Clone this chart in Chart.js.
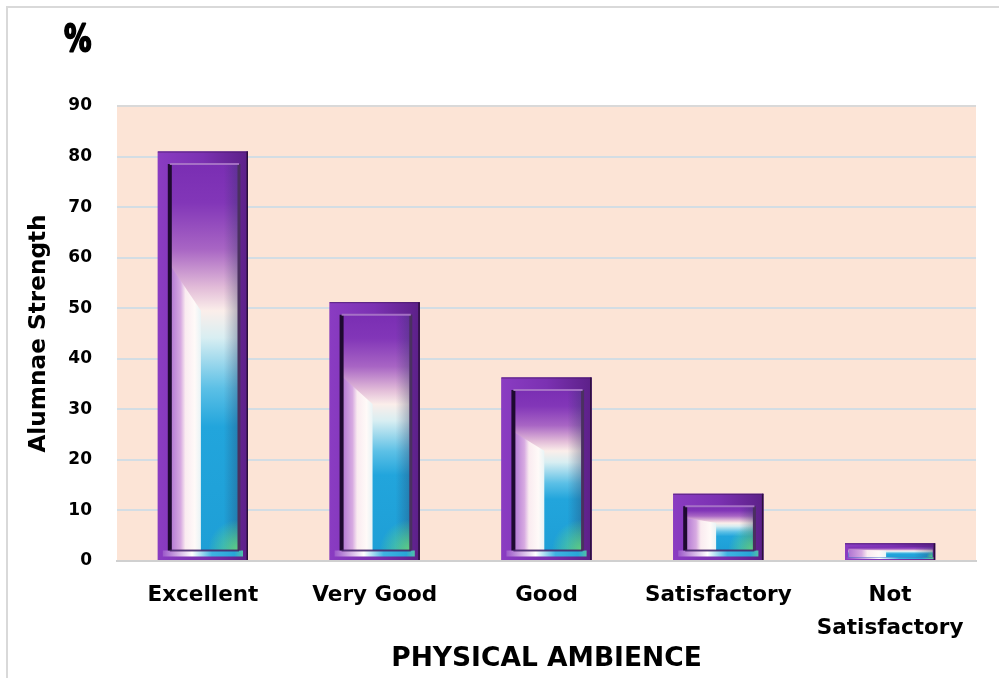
<!DOCTYPE html>
<html>
<head>
<meta charset="utf-8">
<script src="https://cdn.jsdelivr.net/npm/chart.js@4"></script>
<style>
html,body{margin:0;padding:0;background:#fff;}
#wrap{width:999px;height:678px;position:relative;}
</style>
</head>
<body>
<div id="wrap"><canvas id="c" width="999" height="678"></canvas></div>
<script>
const categories = ['Excellent', 'Very Good', 'Good', 'Satisfactory', ['Not', 'Satisfactory']];
const values = [81, 51.2, 36.3, 13.3, 3.5];
const yTicks = [0, 10, 20, 30, 40, 50, 60, 70, 80, 90];
const yTitle = 'Alumnae Strength';
const xTitle = 'PHYSICAL AMBIENCE';
const unitLabel = '%';

const FONT = "'DejaVu Sans', sans-serif";

const framePlugin = {
  id: 'frame',
  beforeDraw(chart) {
    const ctx = chart.ctx;
    ctx.save();
    ctx.fillStyle = '#ffffff';
    ctx.fillRect(0, 0, chart.width, chart.height);
    ctx.strokeStyle = '#d9d9d9';
    ctx.lineWidth = 2;
    ctx.beginPath();
    ctx.moveTo(7, chart.height);
    ctx.lineTo(7, 7);
    ctx.lineTo(chart.width, 7);
    ctx.stroke();
    const a = chart.chartArea;
    ctx.fillStyle = '#fce4d6';
    ctx.fillRect(a.left, a.top, a.right - a.left, a.bottom - a.top);
    ctx.restore();
  },
  afterDraw(chart) {
    const ctx = chart.ctx;
    ctx.save();
    ctx.fillStyle = '#000';
    ctx.strokeStyle = '#000';
    ctx.lineWidth = 2.2;
    ctx.lineJoin = 'round';
    ctx.font = "bold 38px " + FONT;
    ctx.textAlign = 'left';
    ctx.textBaseline = 'alphabetic';
    ctx.translate(64, 51);
    ctx.scale(0.72, 1);
    ctx.fillText(unitLabel, 0, 0);
    ctx.strokeText(unitLabel, 0, 0);
    ctx.restore();
  }
};

const barStylePlugin = {
  id: 'barStyle',
  afterDatasetsDraw(chart) {
    const ctx = chart.ctx;
    const meta = chart.getDatasetMeta(0);
    meta.data.forEach((el) => {
      const w = el.width;
      const L = el.x - w / 2, R = el.x + w / 2, T = el.y, B = el.base;
      const h = B - T;
      if (h <= 0) return;
      ctx.save();
      // outer frame
      let g = ctx.createLinearGradient(L, 0, R, 0);
      g.addColorStop(0, '#8a3cc2');
      g.addColorStop(0.5, '#7b31b2');
      g.addColorStop(1, '#5c2088');
      ctx.fillStyle = g;
      ctx.fillRect(L, T, w, h);
      const f = Math.min(10, h * 0.17);
      const ix = L + f * 1.2, iy = T + f * 1.25, iw = w - f * 2.1, ih = h - f * 2.2;
      const ib = iy + ih;
      // bottom frame strip bright gradient
      g = ctx.createLinearGradient(L, 0, R, 0);
      g.addColorStop(0, '#8a3cc2');
      g.addColorStop(0.2, '#c9a2df');
      g.addColorStop(0.38, '#ffffff');
      g.addColorStop(0.6, '#3fb4e2');
      g.addColorStop(0.85, '#28a6d8');
      g.addColorStop(1, '#6ad08a');
      ctx.fillStyle = g;
      ctx.fillRect(L + f * 0.5, ib, w - f, B - ib - f * 0.35);
      // inner vertical gradient
      g = ctx.createLinearGradient(0, iy, 0, ib);
      g.addColorStop(0, '#7a2eb3');
      g.addColorStop(0.1, '#8236b8');
      g.addColorStop(0.22, '#a865c4');
      g.addColorStop(0.32, '#e2bcd8');
      g.addColorStop(0.38, '#fbeeea');
      g.addColorStop(0.45, '#d8eef2');
      g.addColorStop(0.58, '#5cc0e6');
      g.addColorStop(0.68, '#22a5dc');
      g.addColorStop(1, '#1e9fd6');
      ctx.fillStyle = g;
      ctx.fillRect(ix, iy, iw, ih);
      // left lighter wedge
      ctx.save();
      ctx.beginPath();
      ctx.moveTo(ix, iy + ih * 0.26);
      ctx.lineTo(ix + iw * 0.45, iy + ih * 0.38);
      ctx.lineTo(ix + iw * 0.45, ib);
      ctx.lineTo(ix, ib);
      ctx.closePath();
      ctx.clip();
      g = ctx.createLinearGradient(ix, 0, ix + iw * 0.45, 0);
      g.addColorStop(0, 'rgba(175,115,210,1)');
      g.addColorStop(0.35, 'rgba(215,170,225,1)');
      g.addColorStop(0.5, 'rgba(250,235,240,1)');
      g.addColorStop(0.8, 'rgba(255,250,248,1)');
      g.addColorStop(1, 'rgba(232,244,246,1)');
      ctx.fillStyle = g;
      ctx.fillRect(ix, iy, iw * 0.45, ih);
      ctx.restore();
      // right darker strip
      g = ctx.createLinearGradient(ix + iw * 0.78, 0, ix + iw, 0);
      g.addColorStop(0, 'rgba(40,50,90,0)');
      g.addColorStop(1, 'rgba(40,50,90,0.35)');
      ctx.fillStyle = g;
      ctx.fillRect(ix + iw * 0.78, iy, iw * 0.22, ih);
      // green bottom-right glow
      ctx.save();
      ctx.beginPath();
      ctx.rect(ix, iy, iw, ih);
      ctx.clip();
      const rg = ctx.createRadialGradient(ix + iw, ib, 0, ix + iw, ib, Math.min(iw * 0.45, ih * 0.6));
      rg.addColorStop(0, 'rgba(110,225,120,0.85)');
      rg.addColorStop(1, 'rgba(110,225,120,0)');
      ctx.fillStyle = rg;
      ctx.fillRect(ix, iy, iw, ih);
      ctx.restore();
      // bevel lines
      if (h > 30) {
        ctx.lineWidth = 4;
        ctx.strokeStyle = '#1e0a30';
        ctx.beginPath();
        ctx.moveTo(ix, iy); ctx.lineTo(ix, ib);
        ctx.stroke();
        ctx.lineWidth = 3;
        ctx.strokeStyle = '#4a3060';
        ctx.beginPath();
        ctx.moveTo(ix + iw, iy); ctx.lineTo(ix + iw, ib);
        ctx.stroke();
        ctx.lineWidth = 2;
        ctx.strokeStyle = 'rgba(170,120,200,0.9)';
        ctx.beginPath();
        ctx.moveTo(ix, iy); ctx.lineTo(ix + iw, iy);
        ctx.stroke();
        ctx.strokeStyle = 'rgba(70,30,100,0.8)';
        ctx.beginPath();
        ctx.moveTo(ix, ib); ctx.lineTo(ix + iw, ib);
        ctx.stroke();
      }
      // outer dark right edge
      ctx.lineWidth = 1.5;
      ctx.strokeStyle = '#2a0f3a';
      ctx.beginPath();
      ctx.moveTo(R - 0.75, T); ctx.lineTo(R - 0.75, B);
      ctx.stroke();
      ctx.strokeStyle = 'rgba(60,20,90,0.6)';
      ctx.lineWidth = 1;
      ctx.beginPath();
      ctx.moveTo(L, T + 0.5); ctx.lineTo(R, T + 0.5);
      ctx.stroke();
      ctx.restore();
    });
  }
};

new Chart(document.getElementById('c'), {
  type: 'bar',
  data: {
    labels: categories,
    datasets: [{
      data: values,
      backgroundColor: '#7b33b0',
      borderWidth: 0,
      barPercentage: 0.525,
      categoryPercentage: 1.0
    }]
  },
  options: {
    responsive: false,
    animation: false,
    devicePixelRatio: 1,
    layout: { padding: { top: 106, right: 23, left: 0, bottom: 0 } },
    plugins: { legend: { display: false }, tooltip: { enabled: false } },
    scales: {
      x: {
        grid: { display: false, drawTicks: false },
        border: { display: true, color: '#d0d0d0', width: 2 },
        ticks: { color: '#000', font: { family: FONT, weight: 'bold', size: 21.5, lineHeight: 1.53 }, padding: 18, maxRotation: 0, autoSkip: false },
        title: { display: true, text: xTitle, color: '#000', font: { family: FONT, weight: 'bold', size: 26.5 }, padding: { top: 0, bottom: 3 } },
        afterFit(scale) { scale.height = 678 - 561; }
      },
      y: {
        min: 0, max: 90,
        afterBuildTicks(scale) { scale.ticks = yTicks.map(v => ({ value: v })); },
        grid: { color: (c) => c.tick && c.tick.value === 90 ? '#d9d9d9' : '#d3dde4', lineWidth: 2, drawTicks: false },
        border: { display: false },
        ticks: { color: '#000', font: { family: FONT, weight: 'bold', size: 17 }, padding: 25 },
        title: { display: true, text: yTitle, color: '#000', font: { family: FONT, weight: 'bold', size: 23.2 }, padding: { top: 25, bottom: 0 } },
        afterFit(scale) { scale.width = 117; }
      }
    }
  },
  plugins: [framePlugin, barStylePlugin]
});
</script>
</body>
</html>
